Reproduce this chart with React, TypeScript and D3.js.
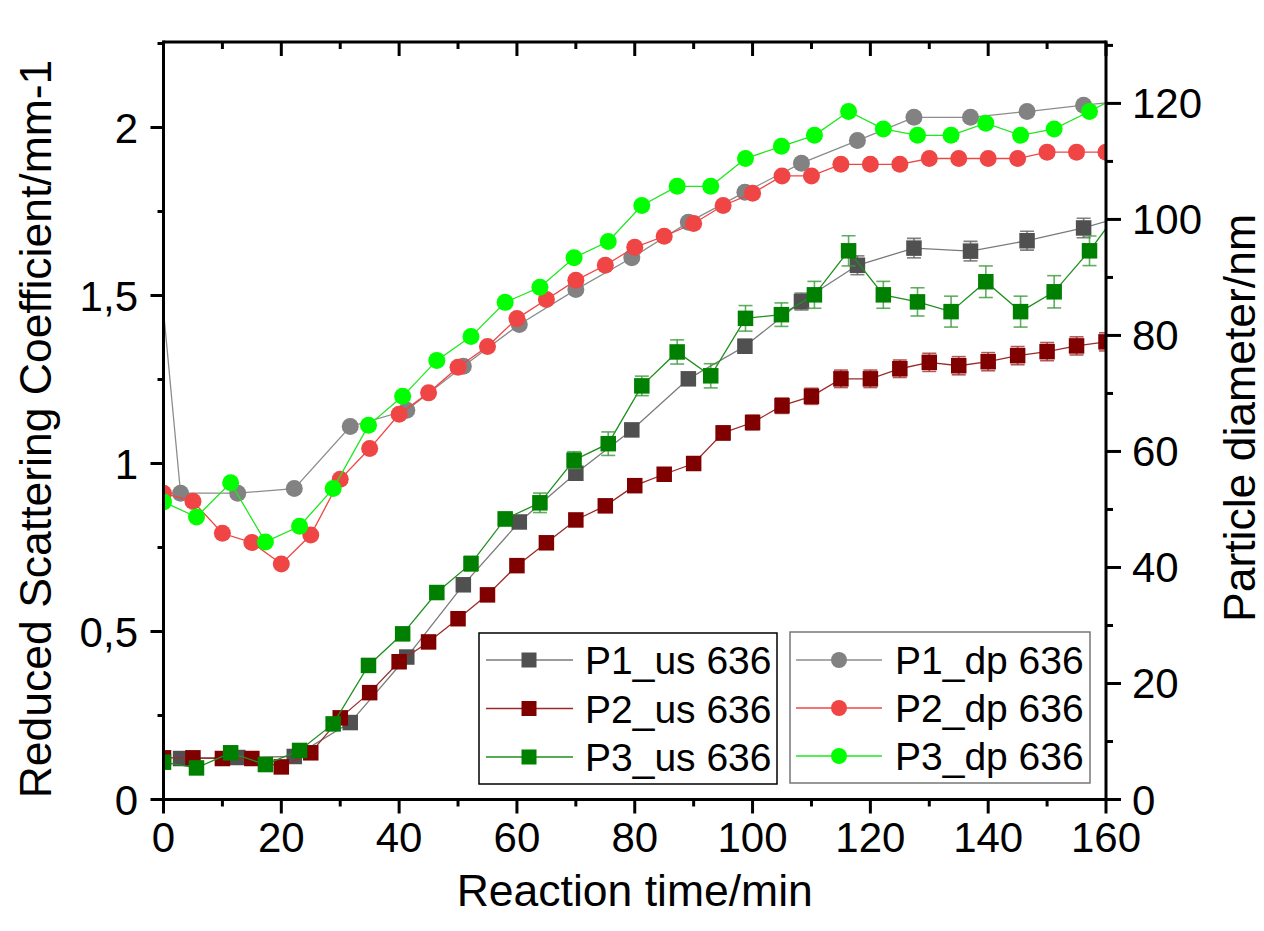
import React from "react";
import * as d3 from "d3";

// reaction time (min) for each sampling run
const p1Time = [-6.7, 2.9, 12.6, 22.2, 31.7, 41.3, 50.9, 60.4, 70.0, 79.5, 89.1, 98.7, 108.3, 117.8, 127.4, 137.0, 146.6, 156.2, 165.8];
const p2Time = [0, 5, 10, 15, 20, 25, 30, 35, 40, 45, 50, 55, 60, 65, 70, 75, 80, 85, 90, 95, 100, 105, 110, 115, 120, 125, 130, 135, 140, 145, 150, 155, 160];
const p3Time = [0, 5.6, 11.4, 17.3, 23.1, 28.8, 34.8, 40.6, 46.4, 52.2, 58.0, 63.9, 69.7, 75.5, 81.2, 87.2, 92.9, 98.8, 104.9, 110.5, 116.3, 122.2, 128.0, 133.7, 139.6, 145.5, 151.2, 157.2, 163.0];

// reduced scattering coefficient (mm-1), left axis
const p1Us = [null, 0.122, 0.125, 0.128, 0.229, 0.424, 0.639, 0.826, 0.971, 1.100, 1.252, 1.349, 1.482, 1.590, 1.641, 1.632, 1.663, 1.701, 1.75];
const p1UsErr = [0, 0.01, 0.01, 0.01, 0.01, 0.01, 0.012, 0.012, 0.012, 0.015, 0.018, 0.02, 0.025, 0.028, 0.029, 0.029, 0.028, 0.029, 0.03];
const p2Us = [0.124, 0.124, 0.122, 0.122, 0.097, 0.139, 0.243, 0.318, 0.410, 0.469, 0.538, 0.609, 0.696, 0.764, 0.832, 0.874, 0.934, 0.968, 1.000, 1.091, 1.122, 1.172, 1.200, 1.252, 1.252, 1.282, 1.301, 1.291, 1.303, 1.321, 1.333, 1.350, 1.362];
const p2UsErr = [0.01, 0.01, 0.01, 0.01, 0.01, 0.01, 0.01, 0.01, 0.01, 0.01, 0.012, 0.012, 0.014, 0.015, 0.016, 0.017, 0.018, 0.019, 0.02, 0.021, 0.022, 0.023, 0.024, 0.026, 0.026, 0.026, 0.027, 0.027, 0.027, 0.027, 0.027, 0.027, 0.027];
const p3Us = [0.111, 0.094, 0.139, 0.104, 0.146, 0.225, 0.399, 0.493, 0.616, 0.702, 0.835, 0.883, 1.010, 1.059, 1.231, 1.332, 1.261, 1.432, 1.443, 1.502, 1.633, 1.502, 1.481, 1.452, 1.541, 1.452, 1.511, 1.633, 1.77];
const p3UsErr = [0.01, 0.01, 0.01, 0.01, 0.01, 0.012, 0.015, 0.018, 0.02, 0.022, 0.02, 0.029, 0.025, 0.035, 0.029, 0.036, 0.036, 0.038, 0.035, 0.04, 0.045, 0.04, 0.042, 0.046, 0.047, 0.046, 0.048, 0.044, 0.045];

// particle diameter (nm), right axis
const p1Dp = [157, 52.8, 52.8, 53.6, 64.3, 67.1, 74.7, 81.9, 87.9, 93.4, 99.5, 104.7, 109.7, 113.6, 117.6, 117.6, 118.6, 119.7, 120.7];
const p2Dp = [52.8, 51.4, 45.9, 44.3, 40.6, 45.6, 55.2, 60.5, 66.4, 70.1, 74.5, 78.1, 82.9, 86.2, 89.5, 92.1, 95.2, 97.1, 99.3, 102.4, 104.5, 107.5, 107.5, 109.5, 109.5, 109.5, 110.5, 110.5, 110.5, 110.5, 111.6, 111.6, 111.6];
const p3Dp = [51.3, 48.7, 54.6, 44.4, 47.1, 53.6, 64.5, 69.5, 75.7, 79.8, 85.7, 88.3, 93.4, 96.2, 102.4, 105.7, 105.7, 110.5, 112.6, 114.5, 118.6, 115.6, 114.5, 114.5, 116.6, 114.5, 115.6, 118.6, 121.7];

const xTicks = [0, 20, 40, 60, 80, 100, 120, 140, 160];
const leftTicks = [0, 0.5, 1, 1.5, 2];
const rightTicks = [0, 20, 40, 60, 80, 100, 120];

const usNames = ["P1_us 636", "P2_us 636", "P3_us 636"];
const dpNames = ["P1_dp 636", "P2_dp 636", "P3_dp 636"];

const FONT = "Arial, 'Liberation Sans', sans-serif";

export default function App() {
  const W = 1264, H = 931;
  const L = 163.5, R = 1106, T = 42, B = 799.5;

  const x = d3.scaleLinear().domain([0, 160]).range([L, R]);
  const yL = d3.scaleLinear().domain([0, 2.25]).range([B, B - 756]);
  const yR = d3.scaleLinear().domain([0, 130.5]).range([B, B - 757]);

  const usSeries = [
    { time: p1Time, v: p1Us, err: p1UsErr, marker: "#505050", line: "#7a7a7a", bar: "#606060" },
    { time: p2Time, v: p2Us, err: p2UsErr, marker: "#800000", line: "#9a2a2a", bar: "#a03030" },
    { time: p3Time, v: p3Us, err: p3UsErr, marker: "#008000", line: "#1f8f1f", bar: "#3a9a3a" },
  ];
  const dpSeries = [
    { time: p1Time, v: p1Dp, marker: "#828282", line: "#8c8c8c" },
    { time: p2Time, v: p2Dp, marker: "#f04545", line: "#f04545" },
    { time: p3Time, v: p3Dp, marker: "#00ff00", line: "#1ee81e" },
  ];

  const pts = (s: any) =>
    s.time.map((t: number, i: number) => ({ t, v: s.v[i], e: s.err ? s.err[i] : 0 })).filter((d: any) => d.v != null);

  const lineL = d3.line<any>().x((d) => x(d.t)).y((d) => yL(d.v));
  const lineR = d3.line<any>().x((d) => x(d.t)).y((d) => yR(d.v));

  const fmt = (v: number) => String(v).replace(".", ",");
  const minorX = d3.range(0, 161, 10);
  const minorL = d3.range(0, 2.26, 0.25);
  const minorR = d3.range(0, 131, 10);

  const sq = 15.5, rad = 8.5;

  return (
    <svg width={W} height={H} style={{ position: "absolute", left: 0, top: 0, background: "#fff" }} fontFamily={FONT}>
      <defs>
        <clipPath id="plot">
          <rect x={L} y={T} width={R - L} height={B - T} />
        </clipPath>
      </defs>

      <g clipPath="url(#plot)">
        {usSeries.map((s, k) => {
          const d = pts(s);
          return (
            <g key={"us" + k}>
              <path d={lineL(d) || ""} fill="none" stroke={s.line} strokeWidth={1.3} />
              {d.map((p: any, i: number) => (
                <g key={i} stroke={s.bar} strokeWidth={1.6} strokeOpacity={0.8}>
                  <line x1={x(p.t)} x2={x(p.t)} y1={yL(p.v - p.e)} y2={yL(p.v + p.e)} />
                  <line x1={x(p.t) - 7} x2={x(p.t) + 7} y1={yL(p.v - p.e)} y2={yL(p.v - p.e)} />
                  <line x1={x(p.t) - 7} x2={x(p.t) + 7} y1={yL(p.v + p.e)} y2={yL(p.v + p.e)} />
                </g>
              ))}
              {d.map((p: any, i: number) => (
                <rect key={"m" + i} x={x(p.t) - sq / 2} y={yL(p.v) - sq / 2} width={sq} height={sq} fill={s.marker} />
              ))}
            </g>
          );
        })}
        {dpSeries.map((s, k) => {
          const d = pts(s);
          return (
            <g key={"dp" + k}>
              <path d={lineR(d) || ""} fill="none" stroke={s.line} strokeWidth={1.3} />
              {d.map((p: any, i: number) => (
                <circle key={i} cx={x(p.t)} cy={yR(p.v)} r={rad} fill={s.marker} />
              ))}
            </g>
          );
        })}
      </g>

      {/* frame */}
      <g stroke="#000" strokeWidth={3} fill="none">
        <line x1={L} x2={R} y1={B} y2={B} />
        <line x1={L} x2={R} y1={T} y2={T} />
        <line x1={L} x2={L} y1={T - 1.5} y2={B + 1.5} />
        <line x1={R} x2={R} y1={T - 1.5} y2={B + 1.5} />
      </g>

      {/* ticks */}
      <g stroke="#000" strokeWidth={3}>
        {minorX.map((t) => {
          const major = t % 20 === 0;
          const len = major ? 14 : 7;
          return (
            <g key={"x" + t}>
              <line x1={x(t)} x2={x(t)} y1={B} y2={B + len} />
              <line x1={x(t)} x2={x(t)} y1={T} y2={T + len} />
            </g>
          );
        })}
        {minorL.map((v, i) => (
          <line key={"l" + i} x1={L} x2={L - (i % 2 === 0 ? 13 : 6)} y1={yL(v)} y2={yL(v)} />
        ))}
        {minorR.map((v) => (
          <line key={"r" + v} x1={R} x2={R + (v % 20 === 0 ? 15 : 7)} y1={yR(v)} y2={yR(v)} />
        ))}
      </g>

      {/* tick labels */}
      <g fontSize={42} fill="#000">
        {xTicks.map((t) => (
          <text key={t} x={x(t)} y={852} textAnchor="middle">{t}</text>
        ))}
        {leftTicks.map((v) => (
          <text key={v} x={138} y={yL(v) + 15} textAnchor="end">{fmt(v)}</text>
        ))}
        {rightTicks.map((v) => (
          <text key={v} x={1132} y={yR(v) + 15} textAnchor="start">{v}</text>
        ))}
      </g>

      {/* axis titles */}
      <g fontSize={44.5} fill="#000">
        <text x={(L + R) / 2} y={906} textAnchor="middle">Reaction time/min</text>
        <text transform="translate(51,429) rotate(-90)" textAnchor="middle">Reduced Scattering Coefficient/mm-1</text>
        <text transform="translate(1255,418) rotate(-90)" textAnchor="middle">Particle diameter/nm</text>
      </g>

      {/* legends */}
      <g>
        <rect x={479} y={633} width={298} height={151} fill="#fff" stroke="#000" strokeWidth={1.5} />
        {usNames.map((n, i) => {
          const cy = 660 + i * 48.5;
          const s = usSeries[i];
          return (
            <g key={n}>
              <line x1={486} x2={573} y1={cy} y2={cy} stroke={s.line} strokeWidth={1.5} />
              <rect x={529 - 7.5} y={cy - 7.5} width={15} height={15} fill={s.marker} />
              <text x={585} y={cy + 14} fontSize={39}>{n}</text>
            </g>
          );
        })}
        <rect x={790} y={632} width={300} height={151} fill="#fff" stroke="#777" strokeWidth={1.5} />
        {dpNames.map((n, i) => {
          const cy = 660 + i * 48;
          const s = dpSeries[i];
          return (
            <g key={n}>
              <line x1={796} x2={882} y1={cy} y2={cy} stroke={s.line} strokeWidth={1.5} />
              <circle cx={839} cy={cy} r={8} fill={s.marker} />
              <text x={895} y={cy + 14} fontSize={39}>{n}</text>
            </g>
          );
        })}
      </g>
    </svg>
  );
}
